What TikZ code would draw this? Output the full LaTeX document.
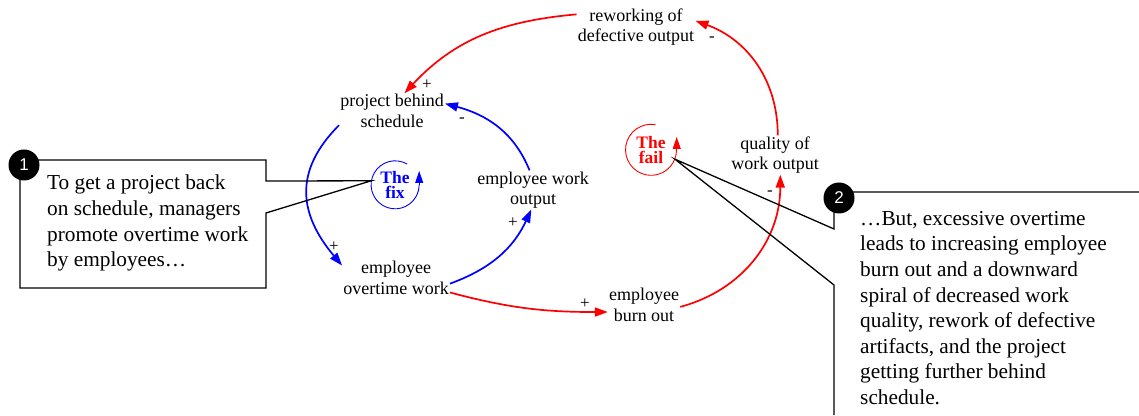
\documentclass[tikz,border=0pt]{standalone}
\usepackage{fontspec}
\setmainfont{Liberation Serif}
\newfontfamily\badgefont{Liberation Sans}
\usetikzlibrary{arrows.meta}
\begin{document}
\begin{tikzpicture}[x=1pt,y=1pt,
  var/.style={align=center,inner sep=1pt,font=\fontsize{18}{20.5}\selectfont},
  sgn/.style={inner sep=0pt,font=\fontsize{17}{17}\selectfont},
  loopname/.style={circle,minimum size=#1,inner sep=0pt,align=center,font=\fontsize{17.5}{15.5}\selectfont\bfseries},
  link/.style={line width=1.7pt,-{Triangle[length=13pt,width=9pt]}},
  looparc/.style={line width=0.9pt},
  looptip/.style={line width=0.9pt,-{Triangle[length=12pt,width=8pt]}},
  badge/.style={circle,fill=black,text=white,minimum size=31pt,inner sep=0pt,font=\badgefont\fontsize{17}{17}\selectfont},
  note/.style={align=left,anchor=north west,inner sep=0pt,font=\fontsize{21.3}{25.6}\selectfont},
  callout/.style={line width=1.3pt}]
\useasboundingbox (0,0) rectangle (1139,415);

\node[var] (pbs) at (392,304) {project behind\\schedule};
\node[var] (rework) at (636,388) {reworking of\\defective output};
\node[var] (ewo) at (533,225) {employee work\\output};
\node[var] (qwo) at (775,260) {quality of\\work output};
\node[var] (eot) at (396,137) {employee\\overtime work};
\node[var] (ebo) at (644,110) {employee\\burn out};

\node[loopname=48,text=blue] (fix) at (395,230) {The\\fix};
\node[loopname=51,text=red] (fail) at (651,265) {The\\fail};
\draw[looparc,blue] (fix.60) arc[start angle=60,end angle=360,radius=24];
\draw[looptip,blue] (fix.east) -- ++(0,14);
\draw[looparc,red] (fail.80) arc[start angle=80,end angle=360,radius=25.5];
\draw[looptip,red] (fail.east) -- ++(0,13);

\draw[link,red] (rework.168) to[out=185,in=47] (pbs.55);
\draw[link,red] (qwo.82) to[out=90,in=-20] (rework.6);
\draw[link,blue] (ewo.100) to[out=112,in=-15] (pbs.8);
\draw[link,blue] (pbs.195) to[out=225,in=130,looseness=1.2] (eot.167);
\draw[link,blue] (eot.-6) to[out=20,in=245] (ewo.265);
\draw[link,red] (eot.-15) to[out=-15,in=180] (ebo.191);
\draw[link,red] (ebo.-3) to[out=15,in=-90] (qwo.285);

\node[sgn] at (427,330) {+};
\node[sgn] at (712,376) {-};
\node[sgn] at (462,295) {-};
\node[sgn] at (334,168) {+};
\node[sgn] at (513,192) {+};
\node[sgn] at (585,111) {+};
\node[sgn] at (770,222) {-};

\draw[callout] (20,255) -- (266,255) -- (266,234) -- (fix.170) -- (266,202) -- (266,127) -- (20,127) -- cycle;
\node[badge] (b1) at (24,250) {1};
\node[note] (n1) at (47,240) {To get a project back\\on schedule, managers\\promote overtime work\\by employees…};

\draw[callout] (1139,223) -- (834,223) -- (834,186) -- (fail.-21) -- (834,130) -- (834,0);
\node[badge] (b2) at (839,217) {2};
\node[note] (n2) at (860,204) {…But, excessive overtime\\leads to increasing employee\\burn out and a downward\\spiral of decreased work\\quality, rework of defective\\artifacts, and the project\\getting further behind\\schedule.};
\end{tikzpicture}
\end{document}
